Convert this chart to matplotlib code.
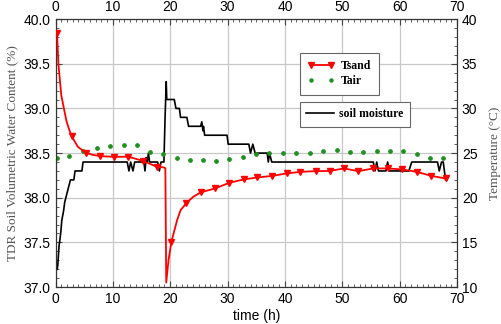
import numpy as np
import matplotlib
matplotlib.use("Agg")
import matplotlib.pyplot as plt
from matplotlib.ticker import MultipleLocator
from matplotlib.lines import Line2D

# soil moisture (left axis, %)
sm_t = [0.3, 0.4, 0.6, 0.9, 1.1, 1.4, 1.6, 1.8, 2.0, 2.2, 2.4, 2.6, 3.2, 3.4, 4.6, 4.8,
        12.5, 12.8, 13.1, 13.5, 13.8, 15.4, 15.6, 15.8, 16.0, 16.2, 16.4, 17.8, 18.1, 18.4,
        18.9, 19.1, 19.3, 19.4, 20.7, 21.0, 21.6, 21.8, 22.9, 23.2, 25.3, 25.5, 25.7, 25.8,
        26.0, 29.9, 30.1, 33.7, 34.0, 34.4, 34.8, 36.9, 37.1, 37.3, 37.7, 55.4, 55.7, 56.0,
        56.3, 56.6, 57.6, 57.9, 58.2, 61.6, 62.1, 66.6, 66.9, 67.3, 67.6, 68.0]
sm_v = [37.2, 37.25, 37.45, 37.6, 37.75, 37.85, 37.95, 38.0, 38.05, 38.1, 38.15, 38.2, 38.2, 38.3, 38.3, 38.4,
        38.4, 38.3, 38.4, 38.3, 38.4, 38.4, 38.3, 38.45, 38.4, 38.5, 38.4, 38.4, 38.3, 38.4,
        38.4, 38.9, 39.3, 39.1, 39.1, 39.0, 39.0, 38.9, 38.9, 38.8, 38.8, 38.85, 38.75, 38.8,
        38.7, 38.7, 38.6, 38.6, 38.5, 38.6, 38.5, 38.5, 38.4, 38.5, 38.4, 38.4, 38.3, 38.4,
        38.3, 38.3, 38.3, 38.4, 38.3, 38.3, 38.4, 38.4, 38.3, 38.4, 38.4, 38.2]

# sand temperature (right axis, degC)
tsand_t = [0.26, 0.5, 1.0, 1.4, 1.9, 2.4, 2.8, 3.9, 5.3, 6.5, 7.8, 10.2, 12.7, 15.2, 17.7, 18.85,
           19.15, 19.3, 19.7, 20.2, 21.2, 21.8, 22.8, 24.0, 25.3, 27.8, 30.3, 32.8, 35.2, 37.8,
           40.3, 42.7, 45.4, 47.8, 50.3, 52.8, 55.4, 57.9, 60.4, 63.0, 65.5, 68.0]
tsand_T = [38.5, 35.0, 31.5, 30.2, 28.6, 27.6, 26.9, 25.7, 25.03, 24.8, 24.66, 24.58, 24.6, 24.13, 23.46, 23.4,
           23.3, 10.5, 13.0, 15.06, 17.5, 18.6, 19.4, 20.1, 20.6, 21.04, 21.67, 22.05, 22.27, 22.45,
           22.72, 22.9, 22.98, 23.0, 23.28, 22.98, 23.28, 23.28, 23.17, 22.9, 22.45, 22.16]
tsand_marks = [0, 6, 8, 10, 11, 12, 13, 14, 19, 22, 24, 25, 26, 27, 28, 29,
               30, 31, 32, 33, 34, 35, 36, 37, 38, 39, 40, 41]

# air temperature (right axis, degC)
tair_t = [0.2, 2.4, 4.8, 7.2, 9.5, 11.9, 14.2, 16.5, 18.7, 21.1, 23.4, 25.7, 28.0, 30.3, 32.7,
          35.0, 37.3, 39.7, 42.0, 44.3, 46.6, 49.0, 51.3, 53.6, 56.0, 58.3, 60.6, 63.0, 65.3, 67.6]
tair_T = [24.5, 24.7, 25.2, 25.6, 25.78, 25.85, 25.93, 25.1, 24.85, 24.5, 24.25, 24.2, 24.1, 24.35, 24.58,
          24.85, 24.96, 25.03, 25.03, 25.03, 25.2, 25.33, 25.14, 25.07, 25.2, 25.2, 25.2, 24.88, 24.47, 24.4]

fig = plt.figure(figsize=(5.02, 3.24), dpi=100)
ax = fig.add_axes([0.1106, 0.114, 0.7998, 0.827])
ax2 = ax.twinx()

ax.plot(sm_t, sm_v, color="black", lw=1.2, zorder=3)
ax2.plot(tair_t, tair_T, linestyle="none", marker="o", ms=2.4, color="#1f911f", zorder=2)
ax2.plot(tsand_t, tsand_T, color="#ff0000", lw=1.3, marker="v", ms=4.5,
         markevery=tsand_marks, zorder=3)

ax.set_xlim(0, 70)
ax.set_ylim(37.0, 40.0)
ax2.set_ylim(10, 40)
ax.xaxis.set_major_locator(MultipleLocator(10))
ax.xaxis.set_minor_locator(MultipleLocator(1))
ax.yaxis.set_major_locator(MultipleLocator(0.5))
ax.yaxis.set_minor_locator(MultipleLocator(0.1))
ax2.yaxis.set_major_locator(MultipleLocator(5))
ax2.yaxis.set_minor_locator(MultipleLocator(1))
ax.yaxis.set_major_formatter(matplotlib.ticker.FormatStrFormatter("%.1f"))

ax.grid(True, color="#c8c8c8", lw=0.9)
ax.set_axisbelow(True)

tickfont = "Liberation Sans"
ax.tick_params(which="both", direction="in", top=True, labeltop=True, labelsize=10,
               color="#444444")
ax.tick_params(which="major", length=4)
ax.tick_params(which="minor", length=2)
ax2.tick_params(which="both", direction="in", labelsize=10, color="#444444")
ax2.tick_params(which="major", length=4)
ax2.tick_params(which="minor", length=2)
for lab in ax.get_xticklabels() + ax.get_yticklabels() + ax2.get_yticklabels():
    lab.set_fontfamily(tickfont)
for lab in ax.xaxis.get_ticklabels(which="both"):
    lab.set_fontfamily(tickfont)
for sp in list(ax.spines.values()) + list(ax2.spines.values()):
    sp.set_color("#333333")

ax.set_ylabel("TDR Soil Volumetric Water Content (%)", family="Liberation Serif",
              fontsize=9.5, color="#555555", labelpad=4)
ax2.set_ylabel("Temperature (\u00b0C)", family="Liberation Serif", fontsize=9.5,
               color="#555555", labelpad=8)
ax.set_xlabel("time (h)", family=tickfont, fontsize=10, labelpad=2)

fontp = {"family": "Liberation Serif", "weight": "bold", "size": 8.5}
h1 = Line2D([], [], color="#ff0000", lw=1.3, marker="v", ms=4.5)
h2 = Line2D([], [], linestyle="none", marker="o", ms=2.2, color="#1f911f")
leg1 = ax2.legend([h1, h2], ["Tsand", "Tair"], prop=fontp, loc="upper left",
                  bbox_to_anchor=(0.594, 0.897), fancybox=False, framealpha=1,
                  edgecolor="#666666", handlelength=2.3, numpoints=2,
                  borderpad=0.65, labelspacing=0.25, handletextpad=0.5)
leg1.get_frame().set_linewidth(0.8)
ax2.add_artist(leg1)
h3 = Line2D([], [], color="black", lw=1.2)
leg2 = ax2.legend([h3], ["soil moisture"], prop=fontp, loc="upper left",
                  bbox_to_anchor=(0.594, 0.713), fancybox=False, framealpha=1,
                  edgecolor="#666666", handlelength=2.3, borderpad=0.55,
                  handletextpad=0.5)
leg2.get_frame().set_linewidth(0.8)

fig.savefig("out.png", dpi=100)
